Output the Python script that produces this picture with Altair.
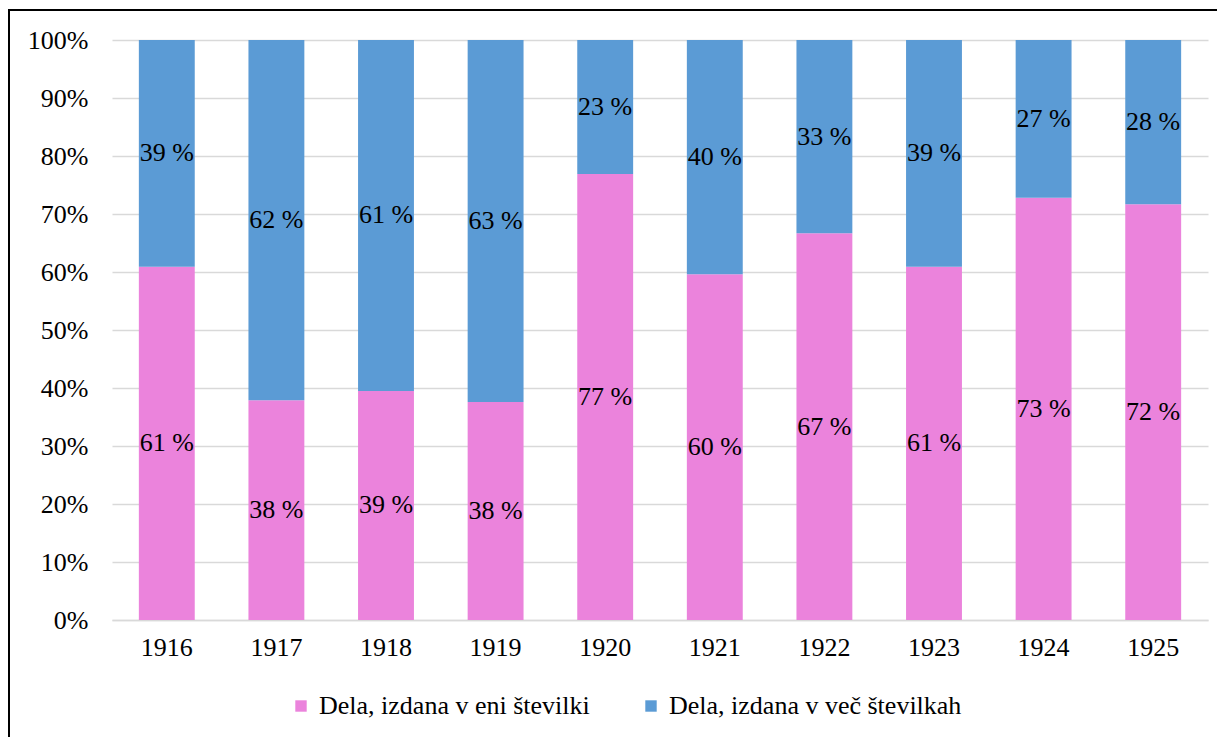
import altair as alt
import pandas as pd

years = ['1916', '1917', '1918', '1919', '1920', '1921', '1922', '1923', '1924', '1925']
single = [60.9, 37.9, 39.5, 37.6, 76.9, 59.6, 66.7, 60.9, 72.8, 71.7]
multi = [39.1, 62.1, 60.5, 62.4, 23.1, 40.4, 33.3, 39.1, 27.2, 28.3]
single_labels = ['61 %', '38 %', '39 %', '38 %', '77 %', '60 %', '67 %', '61 %', '73 %', '72 %']
multi_labels = ['39 %', '62 %', '61 %', '63 %', '23 %', '40 %', '33 %', '39 %', '27 %', '28 %']
S1 = 'Dela, izdana v eni številki'
S2 = 'Dela, izdana v več številkah'
PINK = '#EB83DC'
BLUE = '#5B9BD5'
FONT = 'Liberation Serif'
FS = 26

rows = []
for i, yr in enumerate(years):
    rows.append({'year': yr, 'series': S1, 'value': single[i], 'label': single_labels[i], 'order': 0})
    rows.append({'year': yr, 'series': S2, 'value': multi[i], 'label': multi_labels[i], 'order': 1})
df = pd.DataFrame(rows)

base = alt.Chart(df).transform_stack(
    stack='value', groupby=['year'], as_=['y0', 'y1'],
    sort=[alt.SortField('order', order='ascending')]
).transform_calculate(mid='(datum.y0 + datum.y1) / 2')

xenc = alt.X('year:N', sort=years,
             scale=alt.Scale(paddingInner=0.49, paddingOuter=0.245),
             axis=alt.Axis(title=None, labelAngle=0, ticks=False, domainColor='#D9D9D9',
                           domainWidth=1.5, labelPadding=14, labelFont=FONT,
                           labelFontSize=FS, labelColor='black', grid=False))

yscale = alt.Scale(domain=[0, 100], nice=False)

bars = base.mark_bar().encode(
    x=xenc,
    y=alt.Y('y0:Q', scale=yscale,
            axis=alt.Axis(title=None, values=list(range(0, 101, 10)), labelExpr="datum.value + '%'",
                          domain=False, ticks=False, tickSize=0, labelPadding=24,
                          gridColor='#D9D9D9', gridWidth=1.5, labelFont=FONT,
                          labelFontSize=FS, labelColor='black')),
    y2='y1:Q',
    color=alt.Color('series:N', scale=alt.Scale(domain=[S1, S2], range=[PINK, BLUE]),
                    legend=alt.Legend(title=None, orient='none', legendX=176, legendY=653,
                                      direction='horizontal', symbolType='square', symbolSize=130,
                                      symbolStrokeWidth=0, labelFont=FONT, labelFontSize=FS,
                                      labelColor='black', columnPadding=48, labelOffset=5,
                                      padding=0, labelLimit=0)),
)

text = base.mark_text(font=FONT, fontSize=FS, color='black').encode(
    x=alt.X('year:N', sort=years),
    y=alt.Y('mid:Q', scale=yscale),
    text='label:N',
)

frame = alt.Chart(pd.DataFrame({'k': [0]})).mark_rect(
    fillOpacity=0, stroke='black', strokeWidth=2
).encode(x=alt.value(-103), x2=alt.value(1400), y=alt.value(-30), y2=alt.value(900))

chart = alt.layer(bars, text, frame).properties(
    width=1096, height=580,
    autosize=alt.AutoSizeParams(type='none'),
    padding={'left': 104, 'top': 32, 'right': 9, 'bottom': 117},
).configure_view(stroke=None)

chart.save('out.html', embed_options={'renderer': 'svg', 'actions': False})
